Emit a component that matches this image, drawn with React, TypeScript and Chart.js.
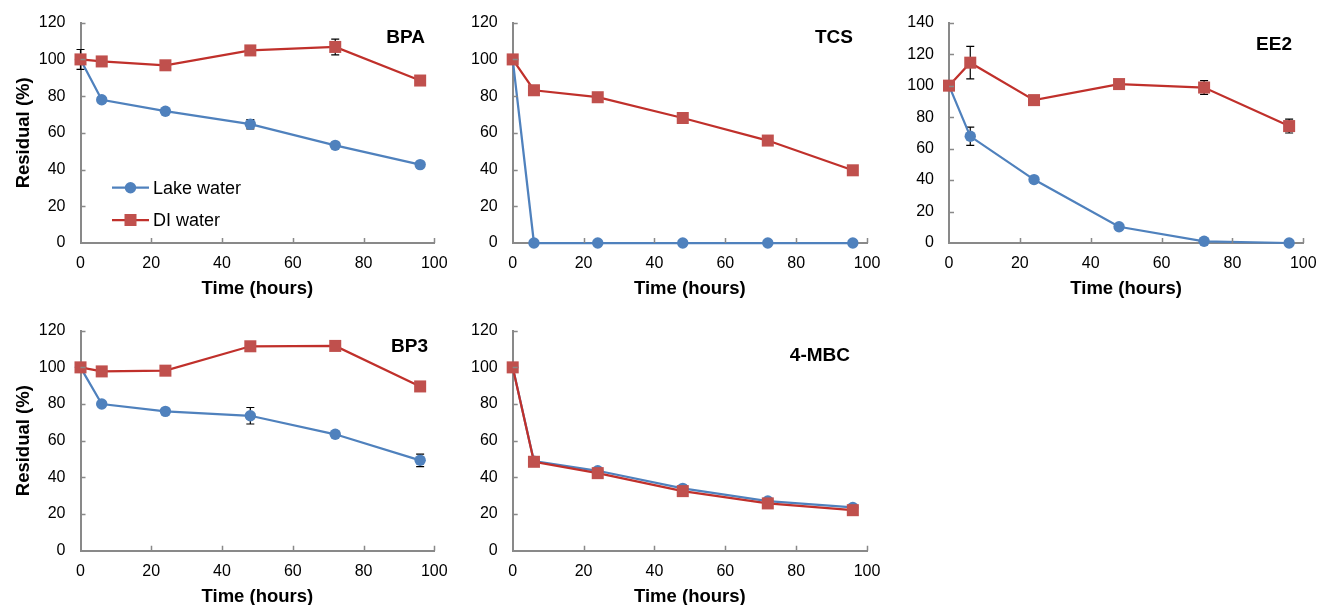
import React, { useEffect, useRef } from "react";
import { Chart, registerables } from "chart.js";

Chart.register(...registerables);

// ---------- data ----------
const timeHours = [0, 6, 24, 48, 72, 96];
const xTickValues = [0, 20, 40, 60, 80, 100];

const bpaLake = [100, 78, 71.8, 64.7, 53.2, 42.7];
const bpaLakeErr = [0, 1.5, 0, 2.5, 0, 0];
const bpaDI = [100, 98.9, 96.8, 104.9, 106.8, 88.5];
const bpaDIErr = [5.4, 0, 0, 0, 4.3, 0];

const tcsLake = [100, 0, 0, 0, 0, 0];
const tcsLakeErr = [0, 0, 0, 0, 0, 0];
const tcsDI = [100, 83.2, 79.4, 68.1, 55.8, 39.6];
const tcsDIErr = [0, 0, 0, 2.5, 0, 0];

const ee2Lake = [100, 67.8, 40.3, 10.3, 1.1, 0];
const ee2LakeErr = [0, 5.8, 0, 0, 0, 0];
const ee2DI = [100, 114.6, 90.8, 101, 98.8, 74.3];
const ee2DIErr = [0, 10.3, 0, 0, 4.4, 4.4];

const bp3Lake = [100, 80, 76, 73.6, 63.5, 49.3];
const bp3LakeErr = [0, 0, 0, 4.5, 0, 3.4];
const bp3DI = [100, 97.8, 98.2, 111.5, 111.7, 89.6];
const bp3DIErr = [0, 0, 0, 0, 0, 0];

const mbcLake = [100, 48.8, 43.6, 34, 27.1, 23.6];
const mbcLakeErr = [0, 0, 0, 0, 0, 0];
const mbcDI = [100, 48.5, 42.3, 32.5, 25.8, 22.1];
const mbcDIErr = [0, 0, 0, 0, 0, 0];

const seriesNames = ["Lake water", "DI water"];
const xTitle = "Time (hours)";
const yTitle = "Residual (%)";

// ---------- styles ----------
const FAM = '"Liberation Sans", Arial, Helvetica, sans-serif';
const BLUE = "#4F81BD";
const BLUE_LINE = "#4F81BD";
const RED = "#C0504D";
const RED_LINE = "#C0302B";
const AXIS = "#898989";

type Area = { L: number; R: number; T: number; B: number };
type Box = { left: number; top: number; width: number; height: number };
type PanelCfg = {
  name: string;
  lake: number[];
  lakeErr: number[];
  di: number[];
  diErr: number[];
  yMax: number;
  area: Area;
  box: Box;
  titleRight: number;
  titleCY: number;
  showYTitle: boolean;
  showLegend: boolean;
};

const panels: PanelCfg[] = [
  {
    name: "BPA", lake: bpaLake, lakeErr: bpaLakeErr, di: bpaDI, diErr: bpaDIErr, yMax: 120,
    area: { L: 80.5, R: 434.3, T: 22.7, B: 243 },
    box: { left: 0, top: 0, width: 460, height: 300 },
    titleRight: 425, titleCY: 38, showYTitle: true, showLegend: true,
  },
  {
    name: "TCS", lake: tcsLake, lakeErr: tcsLakeErr, di: tcsDI, diErr: tcsDIErr, yMax: 120,
    area: { L: 512.7, R: 867, T: 22.7, B: 243 },
    box: { left: 432, top: 0, width: 460, height: 300 },
    titleRight: 853, titleCY: 38, showYTitle: false, showLegend: false,
  },
  {
    name: "EE2", lake: ee2Lake, lakeErr: ee2LakeErr, di: ee2DI, diErr: ee2DIErr, yMax: 140,
    area: { L: 949, R: 1303.3, T: 22.7, B: 243 },
    box: { left: 868, top: 0, width: 449, height: 300 },
    titleRight: 1292, titleCY: 45, showYTitle: false, showLegend: false,
  },
  {
    name: "BP3", lake: bp3Lake, lakeErr: bp3LakeErr, di: bp3DI, diErr: bp3DIErr, yMax: 120,
    area: { L: 80.5, R: 434.3, T: 330.7, B: 550.7 },
    box: { left: 0, top: 308, width: 460, height: 297 },
    titleRight: 428, titleCY: 346.5, showYTitle: true, showLegend: false,
  },
  {
    name: "4-MBC", lake: mbcLake, lakeErr: mbcLakeErr, di: mbcDI, diErr: mbcDIErr, yMax: 120,
    area: { L: 512.7, R: 867, T: 330.7, B: 550.7 },
    box: { left: 432, top: 308, width: 460, height: 297 },
    titleRight: 850, titleCY: 356, showYTitle: false, showLegend: false,
  },
];

const errorBarPlugin = {
  id: "errorBars",
  beforeDatasetsDraw(chart: any) {
    const ctx = chart.ctx;
    const xs = chart.scales.x;
    const ys = chart.scales.y;
    ctx.save();
    ctx.strokeStyle = "#000";
    ctx.lineWidth = 1.2;
    chart.data.datasets.forEach((ds: any) => {
      const errs: number[] | undefined = ds.errors;
      if (!errs) return;
      ds.data.forEach((p: any, i: number) => {
        const e = errs[i];
        if (!e) return;
        const px = xs.getPixelForValue(p.x);
        const top = ys.getPixelForValue(p.y + e);
        const bot = ys.getPixelForValue(p.y - e);
        ctx.beginPath();
        ctx.moveTo(px, top);
        ctx.lineTo(px, bot);
        ctx.moveTo(px - 4, top);
        ctx.lineTo(px + 4, top);
        ctx.moveTo(px - 4, bot);
        ctx.lineTo(px + 4, bot);
        ctx.stroke();
      });
    });
    ctx.restore();
  },
};

function makeDecorPlugin(cfg: PanelCfg) {
  return {
    id: "decor",
    afterDraw(chart: any) {
      const ctx = chart.ctx;
      const xs = chart.scales.x;
      const ys = chart.scales.y;
      const ca = chart.chartArea;
      const ox = cfg.box.left;
      const oy = cfg.box.top;
      ctx.save();
      // inside tick marks
      ctx.strokeStyle = AXIS;
      ctx.lineWidth = 1.5;
      ctx.beginPath();
      xs.ticks.forEach((t: any) => {
        if (t.value === 0) return;
        const px = Math.round(xs.getPixelForValue(t.value)) + 0.5;
        ctx.moveTo(px, ca.bottom);
        ctx.lineTo(px, ca.bottom - 5);
      });
      ys.ticks.forEach((t: any) => {
        if (t.value === 0) return;
        const py = Math.round(ys.getPixelForValue(t.value)) + 0.5;
        ctx.moveTo(ca.left, py);
        ctx.lineTo(ca.left + 5, py);
      });
      ctx.stroke();

      ctx.fillStyle = "#000";
      // x title
      ctx.font = `bold 18.5px ${FAM}`;
      ctx.textAlign = "center";
      ctx.textBaseline = "middle";
      ctx.fillText(xTitle, (ca.left + ca.right) / 2, ca.bottom + 46);
      // y title
      if (cfg.showYTitle) {
        ctx.save();
        ctx.translate(24 - ox, (ca.top + ca.bottom) / 2);
        ctx.rotate(-Math.PI / 2);
        ctx.fillText(yTitle, 0, 0);
        ctx.restore();
      }
      // panel title
      ctx.font = `bold 19px ${FAM}`;
      ctx.textAlign = "right";
      ctx.fillText(cfg.name, cfg.titleRight - ox, cfg.titleCY - oy);

      // legend
      if (cfg.showLegend) {
        const items = [
          { label: seriesNames[0], line: BLUE_LINE, fill: BLUE, shape: "circle", y: 187.7 },
          { label: seriesNames[1], line: RED_LINE, fill: RED, shape: "rect", y: 220 },
        ];
        items.forEach((it) => {
          const y = it.y - oy;
          ctx.strokeStyle = it.line;
          ctx.lineWidth = 2.25;
          ctx.beginPath();
          ctx.moveTo(112 - ox, y);
          ctx.lineTo(149 - ox, y);
          ctx.stroke();
          ctx.fillStyle = it.fill;
          if (it.shape === "circle") {
            ctx.beginPath();
            ctx.arc(130.5 - ox, y, 5.7, 0, Math.PI * 2);
            ctx.fill();
          } else {
            ctx.fillRect(130.5 - ox - 6, y - 6, 12, 12);
          }
          ctx.fillStyle = "#000";
          ctx.font = `18px ${FAM}`;
          ctx.textAlign = "left";
          ctx.textBaseline = "middle";
          ctx.fillText(it.label, 153 - ox, y + 1);
        });
      }
      ctx.restore();
    },
  };
}

function Panel({ cfg }: { cfg: PanelCfg }) {
  const ref = useRef<HTMLCanvasElement | null>(null);
  useEffect(() => {
    if (!ref.current) return;
    const A = cfg.area;
    const B = cfg.box;
    const toPts = (vals: number[]) => timeHours.map((t, i) => ({ x: t, y: vals[i] }));
    const chart = new Chart(ref.current, {
      type: "line",
      data: {
        datasets: [
          {
            label: seriesNames[0],
            data: toPts(cfg.lake),
            errors: cfg.lakeErr,
            borderColor: BLUE_LINE,
            backgroundColor: BLUE,
            pointBackgroundColor: BLUE,
            pointBorderColor: BLUE,
            pointBorderWidth: 0,
            pointStyle: "circle",
            pointRadius: 5.7,
            borderWidth: 2.25,
            tension: 0,
            clip: false,
            order: 2,
          } as any,
          {
            label: seriesNames[1],
            data: toPts(cfg.di),
            errors: cfg.diErr,
            borderColor: RED_LINE,
            backgroundColor: RED,
            pointBackgroundColor: RED,
            pointBorderColor: RED,
            pointBorderWidth: 0,
            pointStyle: "rect",
            pointRadius: 8.5,
            borderWidth: 2.25,
            tension: 0,
            clip: false,
            order: 1,
          } as any,
        ],
      },
      options: {
        animation: false,
        responsive: false,
        maintainAspectRatio: false,
        events: [],
        layout: {
          padding: {
            left: 0,
            top: A.T - B.top,
            right: B.left + B.width - A.R,
            bottom: 0,
          },
        },
        plugins: {
          legend: { display: false },
          tooltip: { enabled: false },
          title: { display: false },
        },
        scales: {
          x: {
            type: "linear",
            position: "bottom",
            min: 0,
            max: 100,
            afterBuildTicks: (s: any) => {
              s.ticks = xTickValues.map((v) => ({ value: v }));
            },
            ticks: {
              font: { family: FAM, size: 16 },
              color: "#000",
              padding: 11,
              maxRotation: 0,
              autoSkip: false,
            },
            grid: { display: true, drawOnChartArea: false, drawTicks: false },
            border: { display: true, color: AXIS, width: 2 },
            afterFit: (s: any) => {
              s.height = B.top + B.height - A.B;
              s.paddingLeft = 0;
              s.paddingRight = 0;
            },
          },
          y: {
            type: "linear",
            position: "left",
            min: 0,
            max: cfg.yMax,
            ticks: {
              stepSize: 20,
              font: { family: FAM, size: 16 },
              color: "#000",
              padding: 15,
              autoSkip: false,
            },
            grid: { display: true, drawOnChartArea: false, drawTicks: false },
            border: { display: true, color: AXIS, width: 2 },
            afterFit: (s: any) => {
              s.width = A.L - B.left;
              s.paddingTop = 0;
              s.paddingBottom = 0;
            },
          },
        },
      } as any,
      plugins: [errorBarPlugin, makeDecorPlugin(cfg)],
    });
    return () => chart.destroy();
  }, [cfg]);
  return (
    <canvas
      ref={ref}
      width={cfg.box.width}
      height={cfg.box.height}
      style={{
        position: "absolute",
        left: cfg.box.left,
        top: cfg.box.top,
        width: cfg.box.width,
        height: cfg.box.height,
      }}
    />
  );
}

export default function App() {
  return (
    <div
      style={{
        position: "absolute",
        left: 0,
        top: 0,
        width: 1317,
        height: 605,
        background: "#fff",
        overflow: "hidden",
      }}
    >
      {panels.map((p) => (
        <Panel key={p.name} cfg={p} />
      ))}
    </div>
  );
}
